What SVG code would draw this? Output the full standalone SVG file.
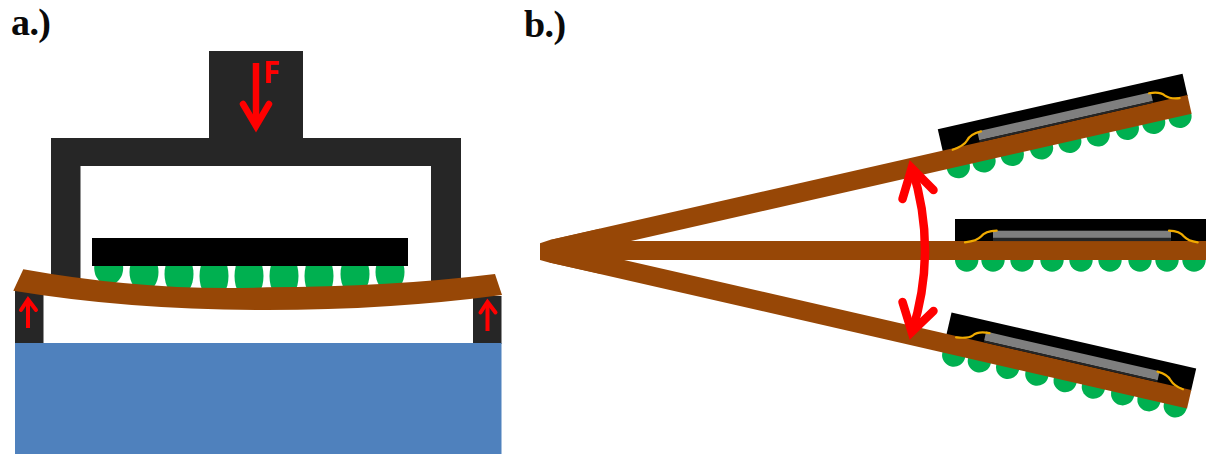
<svg xmlns="http://www.w3.org/2000/svg" xmlns:xlink="http://www.w3.org/1999/xlink" width="1207" height="454" viewBox="0 0 1207 454">
<style>
.label{font-family:"Liberation Serif","Times New Roman",serif;font-weight:700;font-size:38px;letter-spacing:-0.6px;fill:#0a0a0a}
.force{font-family:"Open Sans","Liberation Sans",sans-serif;font-weight:700;font-size:31px;fill:#ff0000}
.dark{fill:#262626}
.brown{fill:#974706}
.green{fill:#00b050}
.gray{fill:#7f7f7f}
.wire{fill:none;stroke:#f0ab00;stroke-width:2.2;stroke-linecap:round}
.red{fill:none;stroke:#ff0000;stroke-miterlimit:6}
.redhead{stroke-linecap:round;stroke-linejoin:miter}
</style>
<defs>
<g id="balls">
<circle cx="966.7" cy="260" r="11.7"/><circle cx="993" cy="260" r="11.7"/><circle cx="1022" cy="260" r="11.7"/><circle cx="1052" cy="260" r="11.7"/><circle cx="1081" cy="260" r="11.7"/><circle cx="1110" cy="260" r="11.7"/><circle cx="1140" cy="260" r="11.7"/><circle cx="1167" cy="260" r="11.7"/><circle cx="1194" cy="260" r="11.7"/>
</g>
<g id="assembly">
<use href="#balls" class="green"/>
<rect x="955" y="219" width="251" height="23" fill="#000"/>
<rect x="552" y="241" width="654" height="19" class="brown"/>
</g>
<g id="wires">
<path class="wire" d="M965,242.3C972,241.5 978,240 981,236.5C984,232.5 988,231 996.7,230.7"/>
<path class="wire" d="M1169,230.7C1177,231 1181,232.5 1184,236.5C1187,240 1192,241.500 1197.7,242.3"/>
</g>
<g id="arm">
<use href="#assembly"/>
<rect x="993" y="230" width="178" height="9" class="gray"/>
<rect x="993" y="239" width="178" height="2" class="dark"/>
<use href="#wires"/>
</g>
</defs>
<rect width="1207" height="454" fill="#fff"/>
<g id="panel-a">
<text id="label-a" class="label" x="11" y="35">a.)</text>
<g id="press"><path class="dark" d="M209,51H303V138H461V292H431V166H80.500V292H51V138H209Z"/></g>
<g id="support-left"><rect class="dark" x="15" y="291" width="28.500" height="53"/></g>
<g id="support-right"><rect class="dark" x="473" y="296" width="28.500" height="48"/></g>
<g id="base"><rect x="15" y="343" width="486.500" height="111" fill="#4f81bd"/></g>
<g id="solder-balls" class="green">
<ellipse cx="108.700" cy="268" rx="14.500" ry="17"/><ellipse cx="144" cy="272" rx="14.500" ry="20"/><ellipse cx="179" cy="274" rx="14.500" ry="22"/><ellipse cx="214" cy="276" rx="14.500" ry="24"/><ellipse cx="249" cy="276" rx="14.500" ry="24"/><ellipse cx="284" cy="276" rx="14.500" ry="24"/><ellipse cx="319" cy="276" rx="14.500" ry="24"/><ellipse cx="355" cy="274" rx="14.500" ry="22"/><ellipse cx="390" cy="272" rx="14.500" ry="20"/>
</g>
<g id="chip"><rect x="92" y="238" width="316" height="28" fill="#000"/></g>
<g id="board"><path class="brown" d="M23.300,269.300Q150,292 267,287.300Q390,287 495,274L502,295Q390,310 267,310Q130,310 13.300,290.700Z"/></g>
<text id="force-label" class="force" x="263" y="83">F</text>
</g>
<g id="panel-b">
<text id="label-b" class="label" x="524" y="37">b.)</text>
<g id="assembly-top"><use href="#arm" transform="translate(0 1.200) rotate(-12.800 541 250.300)"/></g>
<g id="assembly-bottom"><use href="#arm" transform="translate(0 0.200) rotate(12.900 541 250.300)"/></g>
<g id="assembly-middle">
<use href="#assembly"/>
<rect x="993" y="230.700" width="178" height="7.200" class="gray"/>
<rect x="993" y="237.900" width="178" height="3.200" class="dark"/>
<use href="#wires"/>
<path class="brown" d="M540,243.300L549,240.200L600,228.800V273.700L549,262.500L540,260Z"/>
</g>
</g>
<g id="connectors">
<path class="red" stroke-width="6.500" d="M256,63V124"/>
<path class="red redhead" stroke-width="6.500" d="M243,104L256,126L269,104"/>
<path class="red" stroke-width="4" d="M28,328V301"/>
<path class="red redhead" stroke-width="4" d="M21,310L28,299.500L36,310"/>
<path class="red" stroke-width="4" d="M487.500,331V303"/>
<path class="red redhead" stroke-width="4" d="M480.500,312.500L487.500,302L495.500,312.500"/>
<path class="red" stroke-width="8.500" d="M912,168Q938,250 912,332"/>
<path class="red redhead" stroke-width="8.500" d="M902.500,199L911.700,168L933.500,190"/>
<path class="red redhead" stroke-width="8.500" d="M902.500,302L911.700,332L933.500,311"/>
</g>
</svg>
